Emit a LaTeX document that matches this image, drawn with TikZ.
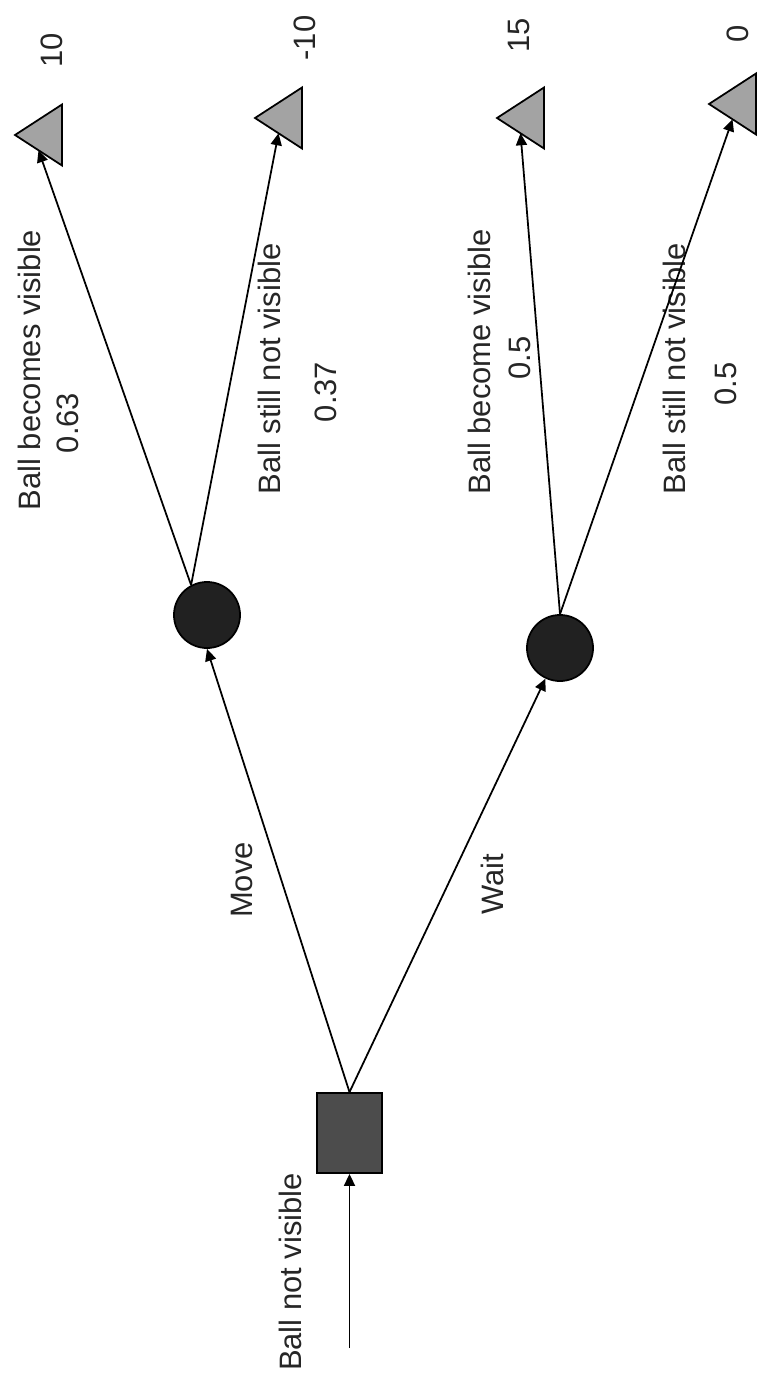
\documentclass[tikz,border=0pt]{standalone}
\usepackage{fontspec}
\setmainfont{Liberation Sans}
\usetikzlibrary{arrows.meta,shapes.geometric}

\newcommand{\lblfont}{\fontsize{8.8}{10.5}\selectfont}

\begin{document}
\begin{tikzpicture}[
  x=0.01cm, y=-0.01cm, font=\lblfont, line width=0.5pt,
  >={Triangle[length=1.2mm, width=1.1mm]},
  dec/.style={draw, fill=black!70, minimum width=6.5mm, minimum height=8mm, inner sep=0pt},
  ch/.style={circle, draw, fill=black!87, minimum size=6.6mm, inner sep=0pt},
  pay/.style={isosceles triangle, shape border rotate=180, isosceles triangle stretches,
    draw, fill=black!36, minimum width=6.1mm, minimum height=4.7mm, inner sep=0pt,
    outer sep=0pt, anchor=apex},
  l/.style={rotate=90, inner sep=0pt, text=black!85}]
\useasboundingbox (0,0) rectangle (766,1376);
% decision, chance and end nodes
\node[dec] (sq) at (349.5,1133) {};
\node[ch] (c1) at (207,615) {};
\node[ch] (c2) at (560,648) {};
\node[pay] (t1) at (15,135) {};
\node[pay] (t2) at (255,118) {};
\node[pay] (t3) at (497,118) {};
\node[pay] (t4) at (709,104) {};
\coordinate (in) at (349.5,1348);
% labels
\node[l] (nv) at (290,1272) {Ball not visible};
\node[l] (mv) at (242,880) {Move};
\node[l] (wt) at (492,884) {Wait};
\node[l] (b1) at (29,370) {Ball becomes visible};
\node[l] (p1) at (68,423) {0.63};
\node[l] (b2) at (269,369) {Ball still not visible};
\node[l] (p2) at (326,392) {0.37};
\node[l] (b3) at (479,362) {Ball become visible};
\node[l] (p3) at (520,358) {0.5};
\node[l] (b4) at (674,369) {Ball still not visible};
\node[l] (p4) at (726,384) {0.5};
\node[l] (v1) at (52,50) {10};
\node[l] (v2) at (305,38) {-10};
\node[l] (v3) at (519,35) {15};
\node[l] (v4) at (738,34) {0};
% branches
\draw[->] (in) -- (sq.south);
\draw[->] (sq.north) -- (c1.south);
\draw[->] (sq.north) -- (c2);
\draw[->] (c1.118) -- (t1.left side);
\draw[->] (c1.118) -- (t2.left side);
\draw[->] (c2.north) -- (t3.left side);
\draw[->] (c2.north) -- (t4.left side);
\end{tikzpicture}
\end{document}
